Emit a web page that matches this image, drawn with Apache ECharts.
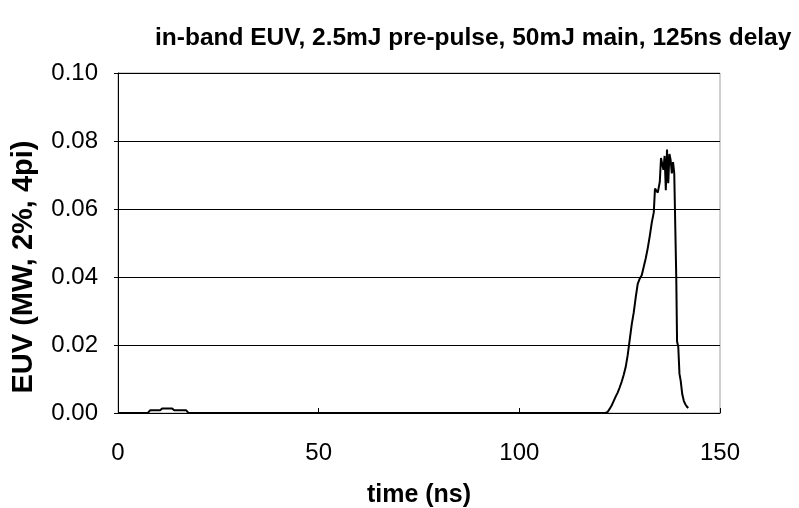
<!DOCTYPE html>
<html><head><meta charset="utf-8">
<script src="https://cdn.jsdelivr.net/npm/echarts@6/dist/echarts.min.js"></script>
<style>html,body{margin:0;padding:0;background:#fff}#c{width:799px;height:508px}</style>
</head><body><div id="c"></div>
<script>
var titleText = 'in-band EUV, 2.5mJ pre-pulse, 50mJ main, 125ns delay';
var xName = 'time (ns)';
var yName = 'EUV (MW, 2%, 4pi)';
var xTicks = [0, 50, 100, 150];
var yTicks = [0.00, 0.02, 0.04, 0.06, 0.08, 0.10];
var timeNs = [0, 7.5, 8, 10.5, 11, 13.5, 14, 17, 17.5, 60, 121.5,
  122, 122.5, 123, 123.5, 124, 124.5, 125, 125.5, 126, 126.5, 127, 127.5, 128, 128.5, 129, 129.5,
  130, 130.5, 131, 131.5, 132, 132.5, 133, 133.5, 133.8, 134.2, 134.5, 135, 135.3, 135.6, 135.9,
  136.2, 136.5, 136.8, 137.1, 137.4, 137.7, 138, 138.3, 138.6, 138.9, 139.1, 139.3, 139.6, 139.9,
  140.2, 140.6, 141, 141.4, 141.8, 142.1];
var euv = [0, 0.0001, 0.0008, 0.0008, 0.0013, 0.0013, 0.0008, 0.0008, 0.0001, 0, 0,
  0.0003, 0.0012, 0.0022, 0.0035, 0.0048, 0.006, 0.0075, 0.0092, 0.0112, 0.0135, 0.017, 0.0215, 0.026, 0.0295, 0.034, 0.038,
  0.0395, 0.0405, 0.043, 0.0455, 0.0485, 0.052, 0.056, 0.059, 0.066, 0.0665, 0.0648, 0.068, 0.075, 0.0745, 0.0715,
  0.0756, 0.0655, 0.0775, 0.0676, 0.0762, 0.0744, 0.0705, 0.0738, 0.0705, 0.0705, 0.040, 0.021, 0.0195, 0.0115,
  0.0095, 0.0055, 0.0035, 0.0025, 0.0018, 0.0015];

var data = timeNs.map(function (t, i) { return [t, euv[i]]; });
var chart = echarts.init(document.getElementById('c'), null, {renderer: 'canvas'});
var FONT = 'Liberation Sans, Arial, sans-serif';
chart.setOption({
  animation: false,
  backgroundColor: '#fff',
  title: {
    text: titleText, left: 150, top: 21,
    textStyle: {fontFamily: FONT, fontWeight: 'bold', fontSize: 24.5, color: '#000'}
  },
  grid: {left: 118, right: 79, top: 73, bottom: 95, outerBoundsMode: 'none', containLabel: false,
    show: true, borderColor: '#a0a0a0', borderWidth: 1, backgroundColor: '#fff'},
  xAxis: {
    type: 'value', min: xTicks[0], max: xTicks[xTicks.length - 1], interval: 50,
    name: xName, nameLocation: 'middle', nameGap: 70,
    nameTextStyle: {fontFamily: FONT, fontWeight: 'bold', fontSize: 25, color: '#000'},
    axisLine: {show: true, onZero: false, lineStyle: {color: '#000', width: 1}},
    axisTick: {show: true, inside: true, length: 5, lineStyle: {color: '#000'}},
    axisLabel: {fontFamily: FONT, fontSize: 24, color: '#000', margin: 28},
    splitLine: {show: false}
  },
  yAxis: {
    type: 'value', min: yTicks[0], max: yTicks[yTicks.length - 1], interval: 0.02,
    name: yName, nameLocation: 'middle', nameGap: 80,
    nameTextStyle: {fontFamily: FONT, fontWeight: 'bold', fontSize: 29, color: '#000', padding: [0, 48, 0, 0]},
    axisLine: {show: true, lineStyle: {color: '#000', width: 1}},
    axisTick: {show: true, inside: false, length: 4, lineStyle: {color: '#000'}},
    axisLabel: {fontFamily: FONT, fontSize: 24, color: '#000', margin: 20,
      formatter: function (v) { return v.toFixed(2); }},
    splitLine: {show: true, lineStyle: {color: '#000', width: 1}}
  },
  series: [{
    type: 'line', data: data, showSymbol: false, symbol: 'none',
    lineStyle: {color: '#000', width: 2}, clip: true
  }]
});
</script></body></html>
